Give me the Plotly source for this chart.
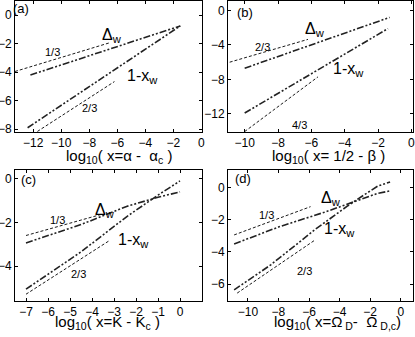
import plotly.graph_objects as go

# panel (a): x = alpha - alpha_c
a_ref13_x = [-13.3, -6.6]
a_ref13_y = [-3.95, -1.95]
a_dw_x = [-12.2, -1.5]
a_dw_y = [-4.2, -0.75]
a_xw_x = [-12.4, -1.5]
a_xw_y = [-7.9, -0.75]
a_ref23_x = [-11.7, -6.2]
a_ref23_y = [-8.16, -4.66]

# panel (b): x = 1/2 - beta
b_ref23_x = [-10.9, -6.2]
b_ref23_y = [-6.0, -3.35]
b_dw_x = [-10.0, -1.3]
b_dw_y = [-6.7, -0.8]
b_xw_x = [-10.0, -1.4]
b_xw_y = [-11.9, -2.1]
b_ref43_x = [-10.0, -5.6]
b_ref43_y = [-14.05, -7.7]

# panel (c): x = K - K_c
c_ref13_x = [-7.0, -3.6]
c_ref13_y = [-2.6, -1.64]
c_dw_x = [-7.0, -4.5, -2.4, -1.0, 0.0]
c_dw_y = [-2.94, -2.1, -1.26, -0.85, -0.6]
c_xw_x = [-7.0, -4.5, -2.4, -1.0, 0.0]
c_xw_y = [-5.06, -3.35, -1.72, -0.75, -0.1]
c_ref23_x = [-7.0, -3.25]
c_ref23_y = [-5.29, -2.86]

# panel (d): x = Omega_D - Omega_D,c
d_ref13_x = [-10.9, -5.9]
d_ref13_y = [-2.94, -1.18]
d_dw_x = [-10.9, -8.0, -5.0, -2.4, -1.5, -0.7]
d_dw_y = [-3.5, -2.45, -1.53, -0.66, -0.35, -0.2]
d_xw_x = [-10.9, -8.5, -5.6, -3.5, -2.4, -1.5, -0.7]
d_xw_y = [-6.36, -4.8, -2.6, -1.15, -0.45, 0.1, 0.35]
d_ref23_x = [-10.7, -5.6]
d_ref23_y = [-6.56, -3.25]

FONT = "Liberation Sans, Arial, sans-serif"
DASHDOT = "7px,2px,2px,2px,2px,2px"
SHORTDASH = "3px,2px"

fig = go.Figure()


def add_ref(x, y, ax):
    fig.add_trace(go.Scatter(x=x, y=y, mode="lines", xaxis="x" + ax, yaxis="y" + ax,
                             line=dict(color="black", width=0.9, dash=SHORTDASH),
                             showlegend=False, hoverinfo="skip"))


def add_curve(x, y, ax):
    fig.add_trace(go.Scatter(x=x, y=y, mode="lines", xaxis="x" + ax, yaxis="y" + ax,
                             line=dict(color="#222222", width=1.6, dash=DASHDOT),
                             showlegend=False, hoverinfo="skip"))


add_ref(a_ref13_x, a_ref13_y, "")
add_curve(a_dw_x, a_dw_y, "")
add_curve(a_xw_x, a_xw_y, "")
add_ref(a_ref23_x, a_ref23_y, "")

add_ref(b_ref23_x, b_ref23_y, "2")
add_curve(b_dw_x, b_dw_y, "2")
add_curve(b_xw_x, b_xw_y, "2")
add_ref(b_ref43_x, b_ref43_y, "2")

add_ref(c_ref13_x, c_ref13_y, "3")
add_curve(c_dw_x, c_dw_y, "3")
add_curve(c_xw_x, c_xw_y, "3")
add_ref(c_ref23_x, c_ref23_y, "3")

add_ref(d_ref13_x, d_ref13_y, "4")
add_curve(d_dw_x, d_dw_y, "4")
add_curve(d_xw_x, d_xw_y, "4")
add_ref(d_ref23_x, d_ref23_y, "4")

axis_style = dict(showline=True, linecolor="black", linewidth=1, mirror="ticks",
                  ticks="inside", ticklen=3, tickcolor="black", showgrid=False,
                  zeroline=False, automargin=False,
                  tickfont=dict(size=12, color="black", family=FONT))

top_y = [1 - 132 / 337, 1 - 1 / 337]
bot_y = [1 - 301 / 337, 1 - 170 / 337]
left_x = [15 / 415, 202 / 415]
right_x = [228 / 415, 413 / 415]

fig.update_layout(
    width=415, height=337,
    margin=dict(l=0, r=0, t=0, b=0),
    paper_bgcolor="white", plot_bgcolor="white",
    font=dict(family=FONT, color="black"),
    xaxis=dict(axis_style, domain=left_x, anchor="y", range=[-13.3, 0.05],
               tickvals=[-12, -10, -8, -6, -4, -2, 0]),
    yaxis=dict(axis_style, domain=top_y, anchor="x", range=[-8.2, 1.0],
               tickvals=[0, -2, -4, -6, -8]),
    xaxis2=dict(axis_style, domain=right_x, anchor="y2", range=[-11.0, 0.1],
                tickvals=[-10, -8, -6, -4, -2, 0]),
    yaxis2=dict(axis_style, domain=top_y, anchor="x2", range=[-14.1, 1.1],
                tickvals=[0, -4, -8, -12]),
    xaxis3=dict(axis_style, domain=left_x, anchor="y3", range=[-7.5, 1.0],
                tickvals=[-7, -6, -5, -4, -3, -2, -1, 0]),
    yaxis3=dict(axis_style, domain=bot_y, anchor="x3", range=[-5.6, 0.4],
                tickvals=[0, -2, -4]),
    xaxis4=dict(axis_style, domain=right_x, anchor="y4", range=[-11.3, 0.8],
                tickvals=[-10, -8, -6, -4, -2, 0]),
    yaxis4=dict(axis_style, domain=bot_y, anchor="x4", range=[-7.05, 1.1],
                tickvals=[0, -2, -4, -6]),
)

# x axis titles
titles = [
    (119 / 415, 1 - 156 / 337, "log<sub>10</sub>( x=α -  α<sub>c</sub> )"),
    (328 / 415, 1 - 156 / 337, "log<sub>10</sub>( x= 1/2 - β )"),
    (107 / 415, 1 - 322 / 337, "log<sub>10</sub>( x=K - K<sub>c</sub> )"),
    (337 / 415, 1 - 322 / 337, "log<sub>10</sub>( x=Ω<sub> D</sub>-  Ω<sub> D,c</sub>)"),
]
for x, y, txt in titles:
    fig.add_annotation(x=x, y=y, xref="paper", yref="paper", text=txt, showarrow=False,
                       xanchor="center", yanchor="middle",
                       font=dict(size=15, color="black", family=FONT))

# panel labels and slope labels
notes = [
    ("", -12.9, 0.45, "(a)", 13), ("", -6.4, -1.4, "Δ<sub>w</sub>", 16),
    ("", -4.2, -4.3, "1-x<sub>w</sub>", 16), ("", -10.6, -2.6, "1/3", 11),
    ("", -8.0, -6.5, "2/3", 11),
    ("2", -10.0, -0.2, "(b)", 13), ("2", -5.8, -2.25, "Δ<sub>w</sub>", 16),
    ("2", -3.8, -6.9, "1-x<sub>w</sub>", 16), ("2", -8.95, -4.25, "2/3", 11),
    ("2", -6.7, -13.25, "4/3", 11),
    ("3", -6.9, -0.05, "(c)", 13), ("3", -3.4, -1.45, "Δ<sub>w</sub>", 16),
    ("3", -2.1, -2.85, "1-x<sub>w</sub>", 16), ("3", -5.55, -1.87, "1/3", 11),
    ("3", -4.6, -4.38, "2/3", 11),
    ("4", -10.3, 0.55, "(d)", 13), ("4", -4.57, -0.66, "Δ<sub>w</sub>", 16),
    ("4", -4.0, -2.63, "1-x<sub>w</sub>", 16), ("4", -8.8, -1.7, "1/3", 11),
    ("4", -6.3, -5.2, "2/3", 11),
]
for ax, x, y, txt, size in notes:
    fig.add_annotation(x=x, y=y, xref="x" + ax, yref="y" + ax, text=txt,
                       showarrow=False, font=dict(size=size, color="black", family=FONT))

# the page body has an 8px default margin; drop it so the chart fills the window
fig.write_html("out.html", config={"displayModeBar": False},
               post_script="document.body.style.margin = '0px';")
